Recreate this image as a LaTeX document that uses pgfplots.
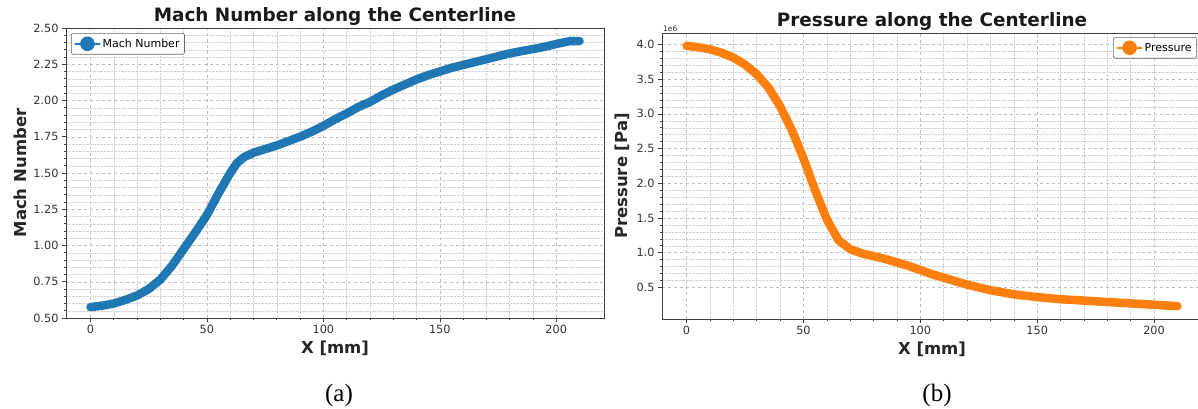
\documentclass[border=0pt]{standalone}
\usepackage{pgfplots}
\pgfplotsset{compat=1.18}
\usepackage{fontspec}
\setmainfont{DejaVu Sans}
\newfontfamily\capfont{Liberation Serif}
\definecolor{tabblue}{HTML}{1F77B4}
\definecolor{taborange}{HTML}{FF7F0E}

\pgfplotsset{
 myax/.style={
  scale only axis,
  anchor=south west,
  xmin=-10.5, xmax=220.5,
  xtick={0,50,...,200},
  minor x tick num=4,
  grid=both,
  major grid style={gray!50, dashed, line width=0.5pt},
  minor grid style={gray!35, densely dotted, line width=0.45pt},
  axis line style={black!75, line width=0.8pt},
  tick align=outside,
  tick pos=left,
  major tick length=4pt,
  minor tick length=2pt,
  every tick/.style={black!75, line width=0.6pt},
  tick label style={font=\fontsize{11.3}{13}\selectfont, text=black!80},
  /pgf/number format/assume math mode=true,
  label style={font=\fontsize{16.5}{19}\bfseries\selectfont, text=black!85},
  title style={font=\fontsize{18.4}{21}\bfseries\selectfont, text=black!90, yshift=-7.5pt},
  legend style={font=\fontsize{11}{13}\selectfont, draw=black!60, rounded corners=2pt, line width=0.6pt, inner sep=3pt},
  legend cell align=left,
  legend image code/.code={
    \draw[line width=2.3pt] (0pt,0pt) -- (24pt,0pt);
    \fill (12pt,0pt) circle (3.2pt);
  },
 },
 mydata/.style={line width=8.5pt, line join=round, line cap=round},
}

\begin{document}
\begin{tikzpicture}
\begin{axis}[myax,
  at={(66pt,90pt)}, width=538pt, height=290pt,
  ymin=0.5, ymax=2.5,
  ytick={0.5,0.75,...,2.5},
  minor y tick num=4,
  yticklabel style={/pgf/number format/.cd, fixed, fixed zerofill, precision=2},
  title={Mach Number along the Centerline},
  xlabel={X [mm]}, ylabel={Mach Number},
  legend style={at={(0,1)}, anchor=north west, xshift=5pt, yshift=-5pt},
]
\addplot[mydata, color=tabblue] coordinates {
(0,0.575) (5,0.585) (10,0.600) (15,0.625) (20,0.655) (25,0.700) (30,0.765)
(35,0.860) (40,0.975) (45,1.090) (50,1.210) (55,1.360) (60,1.500) (63,1.570)
(66,1.610) (70,1.640) (75,1.665) (80,1.690) (85,1.720) (90,1.750) (95,1.785)
(100,1.825) (105,1.870) (110,1.910) (115,1.955) (120,1.990) (125,2.035)
(130,2.075) (135,2.110) (140,2.145) (145,2.175) (150,2.200) (155,2.225)
(160,2.245) (165,2.265) (170,2.285) (175,2.305) (180,2.325) (185,2.340)
(190,2.355) (195,2.370) (200,2.390) (203,2.400) (206,2.410) (210,2.410)
};
\addlegendentry{Mach Number}
\end{axis}

\begin{axis}[myax,
  at={(662pt,89pt)}, width=540pt, height=286pt,
  ymin=0.045, ymax=4.165,
  ytick={0.5,1.0,...,4.0},
  minor y tick num=4,
  yticklabel style={/pgf/number format/.cd, fixed, fixed zerofill, precision=1},
  title={Pressure along the Centerline},
  xlabel={X [mm]}, ylabel={Pressure [Pa]},
  legend style={at={(1,1)}, anchor=north east, xshift=-5pt, yshift=-4pt},
  after end axis/.code={
    \node[anchor=south west, font=\fontsize{7.5}{8}\selectfont, text=black!80, inner sep=1pt] at (rel axis cs:0,1) {1e6};
  },
]
\addplot[mydata, color=taborange] coordinates {
(0,3.98) (5,3.96) (10,3.93) (15,3.88) (20,3.81) (25,3.71) (30,3.57) (35,3.38)
(40,3.11) (45,2.77) (50,2.36) (55,1.90) (60,1.48) (65,1.18) (70,1.05) (75,0.99)
(80,0.95) (85,0.91) (90,0.86) (95,0.81) (100,0.75) (105,0.69) (110,0.64)
(115,0.59) (120,0.54) (125,0.50) (130,0.46) (135,0.43) (140,0.40) (145,0.38)
(150,0.36) (160,0.33) (170,0.31) (180,0.29) (190,0.27) (200,0.25) (210,0.23)
};
\addlegendentry{Pressure}
\end{axis}

\node[font=\capfont\fontsize{25}{28}\selectfont] at (339pt,13pt) {(a)};
\node[font=\capfont\fontsize{25}{28}\selectfont] at (937pt,13pt) {(b)};

\pgfresetboundingbox
\useasboundingbox (0pt,0pt) rectangle (1198pt,408pt);
\end{tikzpicture}
\end{document}
